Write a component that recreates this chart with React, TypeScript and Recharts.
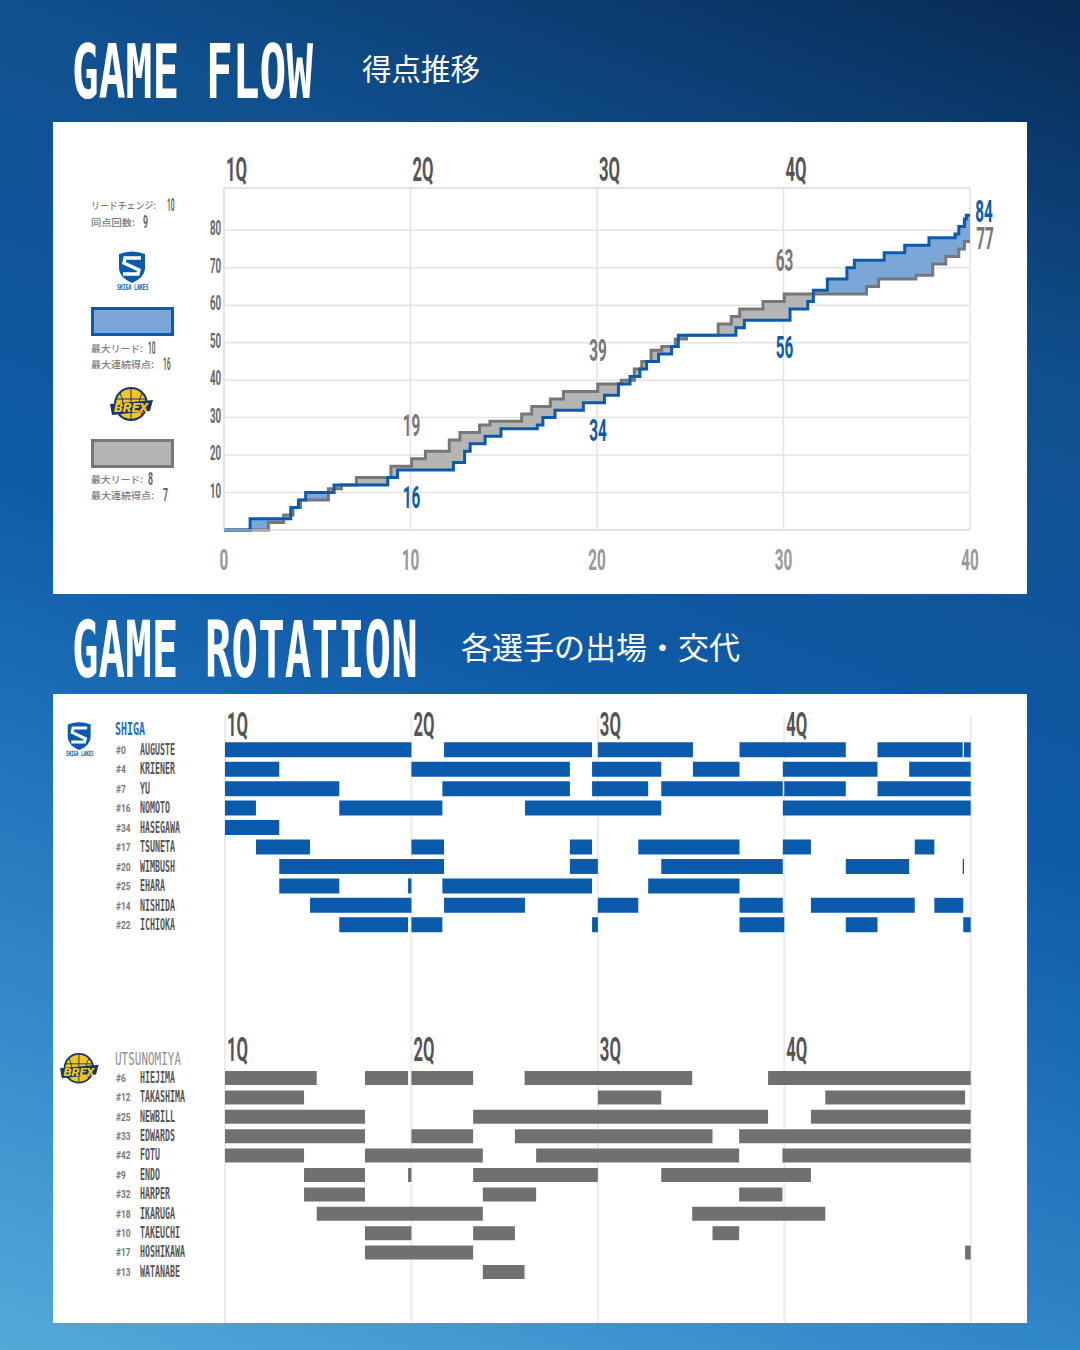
import { Area, Bar, BarChart, CartesianGrid, ComposedChart, Line, ReferenceDot, ReferenceLine, XAxis, YAxis } from 'recharts';

const BLUE = '#0a5bab';
const BLUE_FILL = '#7ba7d8';
const GREY = '#777777';
const GREY_FILL = '#b5b5b5';
const BAR_GREY = '#707070';

// score events: minute of the change, score after it
const shigaMinutes = [0, 1.4, 3.58, 3.99, 4.38, 5.9, 8.78, 9.3, 12.3, 12.9, 13.2, 14, 14.85, 16.8, 17.1, 17.75, 19.27, 20.4, 21.15, 21.77, 22.3, 22.66, 23.3, 24, 24.36, 27.45, 27.9, 30.35, 31.3, 31.6, 32.35, 33.4, 33.8, 35.4, 36.5, 37.8, 39.2, 39.4, 39.7, 39.8];
const shigaScores = [0, 3, 6, 8, 10, 12, 14, 16, 18, 21, 23, 25, 27, 28, 30, 32, 34, 36, 39, 41, 43, 45, 47, 49, 52, 54, 56, 59, 61, 64, 67, 70, 72, 74, 76, 78, 79, 81, 83, 84];
const utsuMinutes = [0, 2.38, 3.2, 3.7, 4.1, 5.6, 6.3, 7.1, 8.95, 10.06, 10.8, 12.08, 12.65, 13.7, 14.26, 15.96, 16.5, 17.5, 18.2, 20.04, 21.3, 22, 22.4, 22.9, 23.47, 24.2, 24.8, 26.5, 27.2, 27.65, 28.9, 30.04, 34.45, 35.1, 37.1, 38, 38.7, 39.4, 39.7];
const utsuScores = [0, 2, 4, 6, 8, 11, 12, 14, 17, 19, 21, 24, 26, 28, 29, 31, 33, 35, 37, 39, 40, 43, 45, 48, 49, 51, 52, 55, 57, 59, 61, 63, 65, 67, 68, 71, 73, 75, 77];

const quarterEnds = [10, 20, 30, 40];
const shigaAtQuarter = [16, 34, 56, 84];
const utsuAtQuarter = [19, 39, 63, 77];
const quarterLabels = ['1Q', '2Q', '3Q', '4Q'];
const minuteTicks = [0, 10, 20, 30, 40];
const scoreTicks = [0, 10, 20, 30, 40, 50, 60, 70, 80];
const scoreMax = 91.3;

const shigaPlayers = ['AUGUSTE', 'KRIENER', 'YU', 'NOMOTO', 'HASEGAWA', 'TSUNETA', 'WIMBUSH', 'EHARA', 'NISHIDA', 'ICHIOKA'];
const shigaNumbers = ['#0', '#4', '#7', '#16', '#34', '#17', '#20', '#25', '#14', '#22'];
const shigaStints = [
  [[0, 10], [11.75, 19.69], [20, 25.1], [27.6, 33.3], [35, 39.57], [39.64, 40]],
  [[0, 2.91], [10, 18.5], [19.69, 23.4], [25.1, 27.6], [29.92, 35], [36.7, 40]],
  [[0, 6.13], [11.66, 18.5], [19.69, 22.7], [23.4, 29.92], [30, 33.3], [35, 40]],
  [[0, 1.66], [6.13, 11.66], [16.09, 23.4], [29.92, 40]],
  [[0, 2.91]],
  [[1.66, 4.56], [10, 11.75], [18.5, 19.69], [22.17, 27.6], [29.92, 31.43], [37, 38.05]],
  [[2.91, 11.75], [18.5, 20], [23.4, 29.92], [33.3, 36.7], [39.57, 39.64]],
  [[2.91, 6.13], [9.82, 10], [11.66, 19.69], [22.7, 27.6]],
  [[4.56, 10], [11.75, 16.09], [20, 22.17], [27.6, 29.92], [31.43, 37], [38.05, 39.6]],
  [[6.13, 9.82], [10, 11.66], [19.69, 20], [27.6, 30], [33.3, 35], [39.6, 40]],
];

const utsuPlayers = ['HIEJIMA', 'TAKASHIMA', 'NEWBILL', 'EDWARDS', 'FOTU', 'ENDO', 'HARPER', 'IKARUGA', 'TAKEUCHI', 'HOSHIKAWA', 'WATANABE'];
const utsuNumbers = ['#6', '#12', '#25', '#33', '#42', '#9', '#32', '#18', '#10', '#17', '#13'];
const utsuStints = [
  [[0, 4.92], [7.51, 9.82], [10, 13.31], [16.07, 25.06], [29.13, 40]],
  [[0, 4.24], [20, 23.4], [32.2, 39.7]],
  [[0, 7.51], [13.31, 29.13], [31.43, 40]],
  [[0, 7.51], [10, 13.31], [15.55, 26.15], [27.58, 40]],
  [[0, 4.24], [7.51, 13.83], [16.69, 27.58], [29.9, 40]],
  [[4.24, 7.51], [9.82, 10], [13.31, 20], [23.4, 31.43]],
  [[4.24, 7.51], [13.83, 16.69], [27.58, 29.9]],
  [[4.92, 13.83], [25.06, 32.2]],
  [[7.51, 10], [13.31, 15.55], [26.15, 27.58]],
  [[7.51, 13.31], [39.7, 40]],
  [[13.83, 16.07]],
];

const scoreAt = (minutes: number[], scores: number[], t: number) => {
  let s = 0;
  minutes.forEach((m, i) => {
    if (m <= t) s = scores[i];
  });
  return s;
};

const allMinutes = Array.from(new Set([...shigaMinutes, ...utsuMinutes, 40])).sort((a, b) => a - b);
const flowData = allMinutes.map((t) => {
  const shiga = scoreAt(shigaMinutes, shigaScores, t);
  const utsu = scoreAt(utsuMinutes, utsuScores, t);
  const top = Math.max(shiga, utsu);
  return { t, shiga, utsu, shigaLead: [utsu, top], utsuLead: [shiga, top] };
});

// stints become stacked gap/on pairs so the bars go through the value axis
const SLOTS = [0, 1, 2, 3, 4, 5];
const buildRows = (players: string[], stints: number[][][]) =>
  players.map((name, i) => {
    const row: any = { name };
    let last = 0;
    SLOTS.forEach((k) => {
      const s = stints[i][k];
      row['gap' + k] = s ? s[0] - last : 0;
      row['on' + k] = s ? s[1] - s[0] : 0;
      if (s) last = s[1];
    });
    return row;
  });
const shigaRows = buildRows(shigaPlayers, shigaStints);
const utsuRows = buildRows(utsuPlayers, utsuStints);

// the display face is tall, narrow and even-width. A squeezed mono face is the nearest
// for letters; Roboto for numbers because the mono zero carries a dot.
const FACES: any = {
  mono: { family: 'DejaVu Sans Mono', capRatio: 0.729, adv: 0.602 },
  num: { family: 'Roboto', capRatio: 0.711, adv: 0.575 },
  quarter: { family: 'Roboto', capRatio: 0.711, adv: 0.63 },
};

function Cond({ x, y, text, cap, cw, fill, weight = 700, face = 'mono' }: any) {
  const f = FACES[face];
  const fontSize = cap / f.capRatio;
  const sx = cw / (f.adv * fontSize);
  return (
    <text
      transform={`translate(${x},${y + cap / 2}) scale(${sx},1)`}
      fontFamily={f.family}
      fontWeight={weight}
      fontSize={fontSize}
      fill={fill}
    >
      {text}
    </text>
  );
}

function ShigaLogo({ x, y, s = 1 }: any) {
  return (
    <g transform={`translate(${x},${y}) scale(${s})`}>
      <path d="M2 4 Q15 -1 28 4 L28 19 Q27 28 15 33 Q3 28 2 19 Z" fill={BLUE} />
      <path d="M24 8 L8 8 L7 13 L22 20 L21 24 L6 24" fill="none" stroke="#fff" strokeWidth={3.4} />
      <Cond x={0} y={37} text="SHIGA LAKES" cap={6} cw={2.85} fill={BLUE} />
    </g>
  );
}

function BrexLogo({ x, y, s = 1 }: any) {
  return (
    <g transform={`translate(${x},${y}) scale(${s})`}>
      <circle cx={21} cy={17} r={17} fill="#12376e" />
      <circle cx={21} cy={17} r={15} fill="#f4c51c" />
      <path d="M21 2 V32 M10 6 Q16 17 10 28 M32 6 Q26 17 32 28 M6 12 H36" stroke="#12376e" strokeWidth={1} fill="none" />
      <path d="M0 17 L43 13 L40 24 L2 28 Z" fill="#12376e" />
      <text x={21} y={25} textAnchor="middle" fontFamily="Roboto" fontWeight={900} fontStyle="italic" fontSize={12} fill="#f4c51c" textLength={34} lengthAdjust="spacingAndGlyphs">BREX</text>
    </g>
  );
}

function SideNote({ y, label, width, value, vx, vw }: any) {
  return (
    <g>
      <text x={91} y={y + 3.5} fontFamily="Noto Sans CJK JP" fontWeight={500} fontSize={9.5} fill="#7a7a7a" textLength={width} lengthAdjust="spacingAndGlyphs">{label}</text>
      <Cond x={vx} y={y - 1} text={value} cap={13} cw={vw} fill="#666" face="num" />
    </g>
  );
}

const QuarterTick = ({ x, y, payload, dy, cap = 24, cw = 10.5 }: any) => {
  const label = quarterLabels[minuteTicks.indexOf(payload.value)];
  if (!label) return null;
  return <Cond x={x + 2} y={y + dy} text={label} cap={cap} cw={cw} fill="#555" face="quarter" />;
};

const MinuteTick = ({ x, y, payload }: any) => {
  const text = String(payload.value);
  const w = text.length * 8.8;
  return <Cond x={x - w / 2} y={y + 21} text={text} cap={21} cw={8.8} fill="#999" face="num" />;
};

const ScoreTick = ({ x, y, payload }: any) => {
  if (payload.value === 0) return null;
  return <Cond x={x - 6} y={y - 2} text={String(payload.value)} cap={14} cw={5.6} fill="#666" face="num" />;
};

const PlayerTick = ({ y, payload, index, numbers }: any) => (
  <g>
    <Cond x={63} y={y} text={numbers[index]} cap={8} cw={4.8} fill="#777" face="num" />
    <Cond x={87} y={y - 1} text={payload.value} cap={12} cw={5} fill="#555" />
  </g>
);

const scoreLabel = (text: string, fill: string, dx: number, dy: number) => (p: any) => {
  const w = text.length * 8.8;
  return <Cond x={p.cx - w / 2 + dx} y={p.cy + dy} text={text} cap={22} cw={8.8} fill={fill} face="num" />;
};

function RotationChart({ rows, numbers, color, height, marginTop, topHeight, padTop, padBottom, barSize, tickDy }: any) {
  return (
    <BarChart
      width={974}
      height={height}
      data={rows}
      layout="vertical"
      margin={{ top: marginTop, right: 56.3, bottom: 0, left: 7 }}
      barCategoryGap={0}
    >
      <CartesianGrid horizontal={false} stroke="#ebebeb" strokeWidth={2} />
      <XAxis
        type="number"
        orientation="top"
        domain={[0, 40]}
        ticks={minuteTicks}
        height={topHeight}
        axisLine={false}
        tickLine={false}
        interval={0}
        tick={<QuarterTick dy={tickDy} />}
      />
      <YAxis
        type="category"
        dataKey="name"
        width={165}
        axisLine={false}
        tickLine={false}
        interval={0}
        padding={{ top: padTop, bottom: padBottom }}
        tick={<PlayerTick numbers={numbers} />}
      />
      {SLOTS.map((k) => [
        <Bar key={'gap' + k} dataKey={'gap' + k} stackId="a" fill="none" barSize={barSize} isAnimationActive={false} />,
        <Bar key={'on' + k} dataKey={'on' + k} stackId="a" fill={color} barSize={barSize} isAnimationActive={false} />,
      ])}
    </BarChart>
  );
}

export default function App() {
  return (
    <div
      style={{
        position: 'absolute',
        left: 0,
        top: 0,
        width: 1080,
        height: 1350,
        overflow: 'hidden',
        background: 'linear-gradient(200deg, #082a55 0%, #10508e 22.5%, #0f5ba8 50%, #2f86c8 77.5%, #55a9d9 100%)',
      }}
    >
      <div style={{ position: 'absolute', left: 53, top: 122, width: 974, height: 472, background: '#fff' }} />
      <div style={{ position: 'absolute', left: 53, top: 694, width: 974, height: 629, background: '#fff' }} />

      <div style={{ position: 'absolute', left: 53, top: 122 }}>
        <ComposedChart
          width={974}
          height={472}
          data={flowData}
          margin={{ top: 36, right: 57, bottom: 24, left: 141 }}
        >
          <CartesianGrid stroke="#e3e3e3" strokeWidth={1.5} />
          <XAxis dataKey="t" type="number" domain={[0, 40]} ticks={minuteTicks} height={40} axisLine={{ stroke: '#ddd' }} tickLine={false} interval={0} tick={<MinuteTick />} />
          <XAxis xAxisId="top" orientation="top" dataKey="t" type="number" domain={[0, 40]} ticks={minuteTicks} height={30} axisLine={false} tickLine={false} interval={0} tick={<QuarterTick dy={-11.5} />} />
          <YAxis type="number" domain={[0, scoreMax]} ticks={scoreTicks} width={30} axisLine={{ stroke: '#ddd' }} tickLine={false} interval={0} tick={<ScoreTick />} />
          <ReferenceLine y={scoreMax} stroke="#ddd" />
          <Area dataKey="shigaLead" type="stepAfter" stroke="none" fill={BLUE_FILL} fillOpacity={1} dot={false} activeDot={false} isAnimationActive={false} />
          <Area dataKey="utsuLead" type="stepAfter" stroke="none" fill={GREY_FILL} fillOpacity={1} dot={false} activeDot={false} isAnimationActive={false} />
          <Line dataKey="utsu" type="stepAfter" stroke={GREY} strokeWidth={3} dot={false} activeDot={false} isAnimationActive={false} />
          <Line dataKey="shiga" type="stepAfter" stroke={BLUE} strokeWidth={3} dot={false} activeDot={false} isAnimationActive={false} />
          {quarterEnds.map((q, i) => {
            const last = q === 40;
            return [
              <ReferenceDot key={'s' + q} x={q} y={shigaAtQuarter[i]} r={0} ifOverflow="visible" shape={scoreLabel(String(shigaAtQuarter[i]), BLUE, last ? 14 : 1, last ? -4 : 27)} />,
              <ReferenceDot key={'u' + q} x={q} y={utsuAtQuarter[i]} r={0} ifOverflow="visible" shape={scoreLabel(String(utsuAtQuarter[i]), GREY, last ? 15 : 1, last ? -4 : -34)} />,
            ];
          })}
        </ComposedChart>
      </div>

      <div style={{ position: 'absolute', left: 53, top: 694 }}>
        <RotationChart rows={shigaRows} numbers={shigaNumbers} color={BLUE} height={338} marginTop={12} topHeight={10} padTop={24.3} padBottom={97.3} barSize={15} tickDy={16} />
      </div>
      <div style={{ position: 'absolute', left: 53, top: 1030 }}>
        <RotationChart rows={utsuRows} numbers={utsuNumbers} color={BAR_GREY} height={293} marginTop={0} topHeight={2} padTop={36} padBottom={41.6} barSize={14} tickDy={25} />
      </div>

      {/* headings, side notes and logos sit over the charts */}
      <svg width={1080} height={1350} style={{ position: 'absolute', left: 0, top: 0, pointerEvents: 'none' }}>
        <Cond x={72} y={71} text="GAME FLOW" cap={54} cw={26.8} fill="#fff" />
        <text x={362} y={80} fontFamily="Noto Sans CJK JP" fontSize={29.5} fill="#fff">得点推移</text>
        <Cond x={72} y={648} text="GAME ROTATION" cap={57} cw={26.6} fill="#fff" />
        <text x={461} y={659} fontFamily="Noto Sans CJK JP" fontSize={31} fill="#fff">各選手の出場・交代</text>

        <SideNote y={205} label="リードチェンジ:" width={65} value="10" vx={167} vw={3.8} />
        <SideNote y={222} label="同点回数:" width={44} value="9" vx={143} vw={5} />
        <ShigaLogo x={117} y={250} />
        <rect x={92.5} y={308.5} width={80} height={26} fill={BLUE_FILL} stroke={BLUE} strokeWidth={3} />
        <SideNote y={348} label="最大リード:" width={52} value="10" vx={148} vw={3.8} />
        <SideNote y={364} label="最大連続得点:" width={63} value="16" vx={163} vw={3.8} />
        <BrexLogo x={110} y={387} />
        <rect x={92.5} y={440.5} width={80} height={26} fill={GREY_FILL} stroke={GREY} strokeWidth={3} />
        <SideNote y={479} label="最大リード:" width={52} value="8" vx={148} vw={5} />
        <SideNote y={495} label="最大連続得点:" width={63} value="7" vx={163} vw={5} />

        <ShigaLogo x={66} y={721} s={0.88} />
        <Cond x={115} y={728.5} text="SHIGA" cap={13} cw={6} fill="#1a6fc4" />
        <BrexLogo x={60} y={1053} s={0.9} />
        <Cond x={115} y={1058.5} text="UTSUNOMIYA" cap={13} cw={6.6} fill="#909090" weight={400} />
      </svg>
    </div>
  );
}
